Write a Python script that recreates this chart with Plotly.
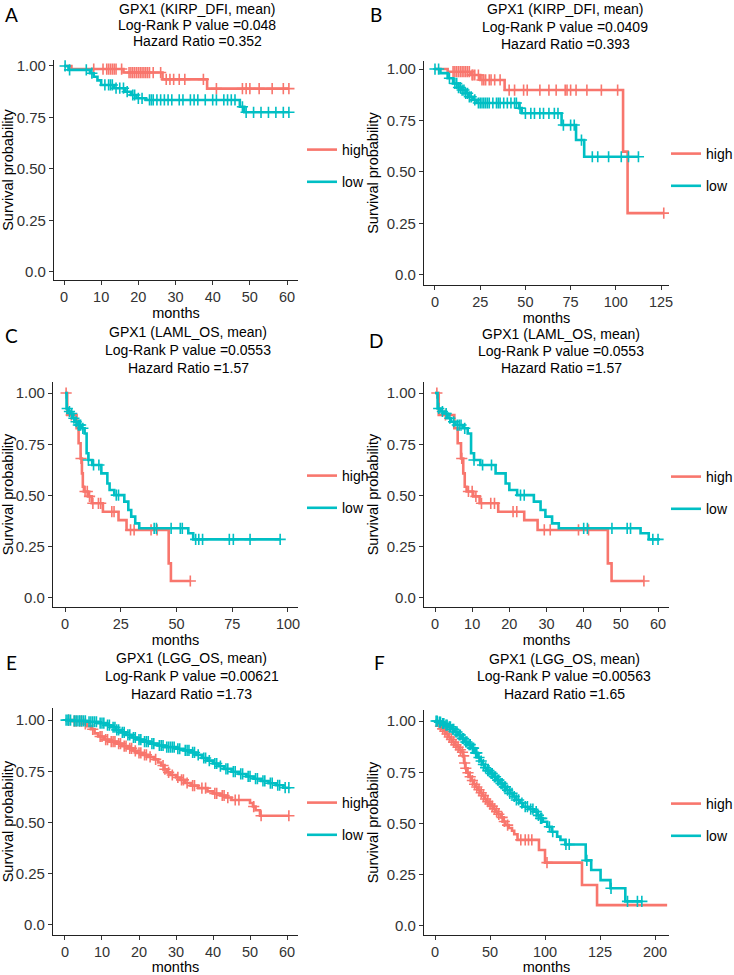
import plotly.graph_objects as go

W, H = 734, 975
HIGH_COLOR = "#F8766D"
LOW_COLOR = "#00BFC4"
FONT = "Liberation Sans"

# ---------------- text ----------------
panel_letters = ["A", "B", "C", "D", "E", "F"]
panel_sets = ["GPX1 (KIRP_DFI, mean)", "GPX1 (KIRP_DFI, mean)", "GPX1 (LAML_OS, mean)",
              "GPX1 (LAML_OS, mean)", "GPX1 (LGG_OS, mean)", "GPX1 (LGG_OS, mean)"]
p_values = ["0.048", "0.0409", "0.0553", "0.0553", "0.00621", "0.00563"]
hazard_ratios = ["0.352", "0.393", "1.57", "1.57", "1.73", "1.65"]
group_labels = ["high", "low"]

y_tickvals = [0, 0.25, 0.5, 0.75, 1.0]
y_ticktext = ["0.0", "0.25", "0.50", "0.75", "1.00"]
A_xticks = [0, 10, 20, 30, 40, 50, 60]
B_xticks = [0, 25, 50, 75, 100, 125]
C_xticks = [0, 25, 50, 75, 100]
D_xticks = [0, 10, 20, 30, 40, 50, 60]
E_xticks = [0, 10, 20, 30, 40, 50, 60]
F_xticks = [0, 50, 100, 150, 200]
F_xticktext = ["0", "50", "100", "125", "200"]

# ---------------- data: KIRP DFI (A) ----------------
A_high_t = [2, 16, 26.5, 38.5]
A_high_s = [0.985, 0.968, 0.935, 0.89]
A_high_end = 60.5
A_high_cens = [8, 10.5, 11.5, 12, 12.5, 13, 13.5, 14, 15.5, 17.5, 18, 18.5, 19, 19.5, 20, 20.5, 21,
               21.5, 22, 22.5, 23, 24, 26, 27.5, 28.5, 29.5, 31, 32.5, 37.5, 41, 48, 49, 50, 52.5,
               56, 59, 60.5]
A_low_t = [1.2, 7, 8, 9, 10, 13.5, 16.5, 18, 19.5, 22, 47.3, 48.5]
A_low_s = [0.981, 0.965, 0.948, 0.93, 0.908, 0.892, 0.875, 0.859, 0.843, 0.835, 0.802, 0.775]
A_low_end = 60.5
A_low_cens = [0.3, 1.5, 6, 7.5, 11, 12, 12.5, 13, 14, 15, 16, 17, 18.5, 19, 20, 21, 23, 23.5, 24,
              25, 26, 27, 28, 29, 31, 32, 34, 35, 36, 38, 40, 41, 43, 44, 45, 46, 48, 49, 51, 53,
              55, 57, 59, 60.5]

# ---------------- data: KIRP DFI (B) ----------------
B_high_t = [7, 20, 25, 38.5, 104, 106.5]
B_high_s = [0.987, 0.971, 0.947, 0.898, 0.599, 0.30]
B_high_end = 126.5
B_high_cens = [10, 11, 12, 13, 14, 15, 16, 17, 18, 19, 20.5, 21, 22, 24, 26, 27, 28, 30, 31, 33,
               36, 41, 44, 49, 51, 58, 63, 67, 72, 73, 75, 78, 84, 92, 101, 126.5]
B_low_t = [3, 7, 10, 13, 15, 17, 19, 21, 23, 46.5, 48, 70, 78, 82.5]
B_low_s = [0.98, 0.955, 0.93, 0.91, 0.898, 0.882, 0.865, 0.85, 0.835, 0.81, 0.785, 0.728,
           0.655, 0.574]
B_low_end = 112.5
B_low_cens = [0, 2, 8, 11, 12, 13, 14, 15, 16, 17, 18, 19, 20, 22, 24, 25, 26, 27, 28, 29, 30,
              32, 34, 35, 36, 38, 40, 42, 44, 45, 47, 50, 53, 55, 58, 60, 63, 66, 68, 71, 75, 77,
              81, 87, 90, 96, 103, 107, 112.5]

# ---------------- data: LAML OS (C full, D up to 60 months) ----------------
L_high_t = [1, 5.2, 6.1, 7, 7.6, 8, 8.5, 10.3, 12, 17, 24, 27.6, 46.5, 47.5]
L_high_s = [0.893, 0.828, 0.755, 0.681, 0.608, 0.543, 0.52, 0.496, 0.462, 0.421, 0.38, 0.332,
            0.169, 0.083]
L_high_end = 56.2
L_high_cens = [0.5, 2.8, 7.2, 9, 10, 11, 12.5, 15, 16, 21, 22, 29.4, 31, 38.6, 41.3, 56.2]
L_low_t = [0.7, 1.5, 2.5, 3.4, 4.3, 5.5, 7.6, 8.8, 9.7, 10.5, 12.2, 16.3, 19, 20, 22.1, 26.6,
           28.4, 29.7, 31.5, 33.3, 55.3, 57.5]
L_low_s = [0.925, 0.91, 0.9, 0.877, 0.86, 0.844, 0.828, 0.803, 0.706, 0.673, 0.649, 0.608, 0.559,
           0.527, 0.502, 0.47, 0.429, 0.397, 0.364, 0.34, 0.316, 0.286]
L_low_end = 96.5
L_low_cens = [1, 2, 3, 4, 5, 6, 6.5, 7, 8, 10.5, 12.8, 15.2, 23, 24, 40, 41, 47.6, 51.7, 52.6,
              58.6, 60, 61.7, 73.7, 75.5, 83, 96.5]
D_max_months = 60.5

# ---------------- data: LGG OS (E) ----------------
E_high_t = [2, 5, 6, 7, 8, 9, 10.5, 12, 14, 15.5, 17, 18.5, 19.5, 21, 22.5, 24, 25.2, 26, 26.8,
            27.5, 28.5, 30, 31.2, 32.5, 34, 36, 38.5, 40, 42, 43.5, 45, 50, 50.8, 51.5, 52.7]
E_high_s = [0.995, 0.982, 0.97, 0.955, 0.935, 0.92, 0.905, 0.895, 0.885, 0.873, 0.862, 0.85,
            0.84, 0.83, 0.82, 0.808, 0.793, 0.778, 0.76, 0.745, 0.732, 0.72, 0.708, 0.693, 0.68,
            0.668, 0.652, 0.642, 0.632, 0.622, 0.61, 0.595, 0.578, 0.56, 0.533]
E_high_end = 60.5
E_high_cens = [1, 2.5, 3, 4, 4.5, 5.5, 7.5, 9.5, 10, 11, 11.5, 12.5, 13, 13.5, 14.5, 15, 16, 16.5,
               17.5, 18, 19, 20, 20.5, 21.5, 22, 23, 24.5, 26.5, 27, 28, 29, 30.5, 31.5, 32, 33,
               34.5, 35, 37, 38, 40.5, 41, 42.5, 43, 44, 46, 47, 51, 53, 60.5]
E_low_t = [2, 6, 9, 11, 12.5, 13.8, 15, 16.5, 18, 19.5, 21, 23, 25, 27, 30, 32, 34, 35.5, 37,
           38.5, 40, 41.5, 43, 45, 47, 49, 51, 53, 55, 57, 59]
E_low_s = [0.996, 0.992, 0.985, 0.975, 0.965, 0.952, 0.94, 0.928, 0.915, 0.905, 0.895, 0.885,
           0.876, 0.868, 0.86, 0.852, 0.842, 0.83, 0.815, 0.802, 0.788, 0.775, 0.762, 0.748,
           0.737, 0.725, 0.714, 0.703, 0.692, 0.682, 0.67]
E_low_end = 60.5
E_low_cens = [0.3, 0.8, 1, 1.5, 2.5, 3, 3.5, 4, 4.5, 5, 5.5, 6.5, 7, 7.5, 8, 8.5, 9.5, 10, 10.5,
              11.5, 12, 13, 13.5, 14, 14.5, 15.5, 16, 17, 17.5, 18.5, 19, 20, 20.5, 21.5, 22,
              22.5, 23.5, 24, 25.5, 26, 26.5, 27.5, 28, 28.5, 29, 29.5, 30.5, 31, 32.5, 33, 33.5,
              34.5, 35, 36, 37.5, 38, 39, 40.5, 41, 42, 43.5, 44, 45.5, 46, 47.5, 48, 49.5, 50,
              51.5, 52, 53.5, 54, 55.5, 56, 57.5, 58, 59.5, 60.5]

# ---------------- data: LGG OS (F) ----------------
F_high_t = [2, 4, 6, 8, 10, 12, 14, 16, 18, 20, 22, 24, 25.5, 26.5, 27.5, 29, 31, 33, 35, 37, 39,
            41, 43, 45, 47, 49, 51, 53, 55, 57, 60, 62, 64, 67, 70, 72, 75, 94.5, 100, 133.6, 147.3]
F_high_s = [0.99, 0.975, 0.962, 0.95, 0.937, 0.922, 0.91, 0.897, 0.884, 0.872, 0.86, 0.848, 0.83,
            0.795, 0.77, 0.748, 0.728, 0.71, 0.692, 0.678, 0.665, 0.65, 0.636, 0.62, 0.607, 0.595,
            0.585, 0.572, 0.558, 0.545, 0.53, 0.51, 0.492, 0.478, 0.465, 0.448, 0.42, 0.371,
            0.309, 0.2, 0.102]
F_high_end = 211
F_high_cens = [5, 7, 9, 11, 13, 15, 17, 19, 21, 23, 25, 26, 27, 28, 30, 32, 34, 36, 38, 40, 42,
               44, 46, 48, 50, 52, 54, 56, 58, 61, 63, 66, 78, 82, 85, 88, 101.8]
F_low_t = [3, 6, 9, 12, 15, 18, 21, 24, 27, 30, 33, 36, 39, 41, 43, 45, 47, 50, 53, 56, 59, 62,
           65, 68, 71, 74, 77, 80, 85, 90, 93, 96, 98, 102, 106, 111, 114, 118.5, 137, 142,
           150.5, 159.5, 173]
F_low_s = [0.995, 0.988, 0.98, 0.972, 0.96, 0.947, 0.932, 0.915, 0.898, 0.885, 0.868, 0.845,
           0.822, 0.805, 0.788, 0.772, 0.758, 0.744, 0.728, 0.712, 0.695, 0.679, 0.663, 0.647,
           0.632, 0.615, 0.6, 0.582, 0.57, 0.558, 0.54, 0.525, 0.509, 0.484, 0.46, 0.436, 0.42,
           0.398, 0.32, 0.273, 0.224, 0.184, 0.12]
F_low_end = 188
F_low_cens = [1, 2, 4, 5, 7, 8, 10, 11, 13, 14, 16, 17, 19, 20, 22, 23, 25, 26, 28, 29, 31, 32,
              34, 35, 37, 38, 40, 42, 44, 46, 48, 49, 51, 52, 54, 55, 57, 58, 60, 61, 63, 64, 66,
              68, 70, 72, 74, 76, 79, 82, 84, 87, 89, 92, 94, 96, 97, 104, 107, 119, 122, 138,
              160, 175, 184, 188]


def truncate(times, surv, end, cens, limit):
    tt = [t for t in times if t <= limit]
    ss = surv[:len(tt)]
    return tt, ss, min(end, limit), [c for c in cens if c <= limit]


D_high = truncate(L_high_t, L_high_s, L_high_end, L_high_cens, D_max_months)
D_low = truncate(L_low_t, L_low_s, L_low_end, L_low_cens, D_max_months)

curves = [
    ((A_high_t, A_high_s, A_high_end, A_high_cens), (A_low_t, A_low_s, A_low_end, A_low_cens)),
    ((B_high_t, B_high_s, B_high_end, B_high_cens), (B_low_t, B_low_s, B_low_end, B_low_cens)),
    ((L_high_t, L_high_s, L_high_end, L_high_cens), (L_low_t, L_low_s, L_low_end, L_low_cens)),
    (D_high, D_low),
    ((E_high_t, E_high_s, E_high_end, E_high_cens), (E_low_t, E_low_s, E_low_end, E_low_cens)),
    ((F_high_t, F_high_s, F_high_end, F_high_cens), (F_low_t, F_low_s, F_low_end, F_low_cens)),
]
xticks = [A_xticks, B_xticks, C_xticks, D_xticks, E_xticks, F_xticks]
xticktexts = [None, None, None, None, None, F_xticktext]

# ---------------- layout geometry (pixels) ----------------
# left, right, top, bottom of plotting panel ; x range ; y range
geom = [
    (54, 298, 60, 280, [-2.69, 62.95], [-0.039, 1.029]),
    (424, 669, 61, 285, [-6.08, 129.4], [-0.049, 1.039]),
    (53, 298, 382, 607, [-5.38, 104.5], [-0.044, 1.054]),
    (424, 669, 382, 607, [-2.96, 62.95], [-0.044, 1.054]),
    (53, 298, 708, 935, [-3.24, 62.97], [-0.049, 1.059]),
    (424, 669, 710, 935, [-10, 212.7], [-0.044, 1.054]),
]
title_x = [197, 565, 188, 561, 192, 564]
title_y = [(9, 25, 41), (9, 27, 44), (332, 350, 368), (334, 351, 368), (658, 676, 694), (659, 676, 694)]
letter_pos = [(11, 14), (376, 14), (11, 336), (376, 340), (12, 662), (379, 662)]
legend_pos = [(302, 152), (666, 156), (302, 478), (666, 479), (302, 805), (666, 806)]
xtitle_standoff = [2, 1, 2, 2, 3, 3]


def surv_at(t, times, surv):
    s = 1.0
    for ti, si in zip(times, surv):
        if ti <= t:
            s = si
    return s


fig = go.Figure()
annotations = []
layout = {}

for i in range(6):
    n = "" if i == 0 else str(i + 1)
    xa, ya = "x" + n, "y" + n
    leg = "legend" + n
    for (times, surv, end, cens), label, color in zip(curves[i], group_labels, [HIGH_COLOR, LOW_COLOR]):
        xs = [0] + list(times) + [end]
        ys = [1.0] + list(surv) + [surv[-1]]
        fig.add_trace(go.Scatter(
            x=xs, y=ys, mode="lines", line=dict(color=color, width=2.6, shape="hv"),
            name=label, legend=leg, legendgroup=f"{i}-{label}", showlegend=True,
            xaxis=xa, yaxis=ya, hoverinfo="skip"))
        fig.add_trace(go.Scatter(
            x=cens, y=[surv_at(c, times, surv) for c in cens], mode="markers",
            marker=dict(symbol="cross-thin", size=8, line=dict(color=color, width=1.6)),
            showlegend=False, legendgroup=f"{i}-{label}", xaxis=xa, yaxis=ya, hoverinfo="skip"))

    l, r, t, b, xr, yr = geom[i]
    layout["xaxis" + n] = dict(
        domain=[l / W, r / W], range=xr, anchor=ya, tickmode="array", tickvals=xticks[i],
        ticktext=xticktexts[i] if xticktexts[i] else [str(v) for v in xticks[i]],
        showline=True, linecolor="#222", linewidth=1.1, ticks="outside", ticklen=4,
        tickcolor="#333", tickfont=dict(family=FONT, size=14.5, color="#333"),
        showgrid=False, zeroline=False,
        title=dict(text="months", font=dict(family=FONT, size=14.5, color="#000"),
                   standoff=xtitle_standoff[i]))
    layout["yaxis" + n] = dict(
        domain=[1 - b / H, 1 - t / H], range=yr, anchor=xa, tickmode="array",
        tickvals=y_tickvals, ticktext=y_ticktext,
        showline=True, linecolor="#222", linewidth=1.1, ticks="outside", ticklen=4,
        tickcolor="#333", tickfont=dict(family=FONT, size=15, color="#333"),
        showgrid=False, zeroline=False,
        title=dict(text="Survival probability", font=dict(family=FONT, size=14.5, color="#000"),
                   standoff=4))
    lx, ly = legend_pos[i]
    layout[leg] = dict(x=lx / W, xanchor="left", y=1 - (ly - 18) / H, yanchor="top",
                       traceorder="grouped", tracegroupgap=11, bgcolor="rgba(0,0,0,0)",
                       font=dict(family=FONT, size=14, color="#000"), itemclick=False)

    lines = [panel_sets[i], "Log-Rank P value =" + p_values[i], "Hazard Ratio =" + hazard_ratios[i]]
    for txt, yy in zip(lines, title_y[i]):
        annotations.append(dict(text=txt, x=title_x[i] / W, y=1 - yy / H, xref="paper", yref="paper",
                                showarrow=False, xanchor="center", yanchor="middle",
                                font=dict(family=FONT, size=14, color="#000")))
    px_, py_ = letter_pos[i]
    annotations.append(dict(text=panel_letters[i], x=px_ / W, y=1 - py_ / H, xref="paper",
                            yref="paper", showarrow=False, xanchor="center", yanchor="middle",
                            font=dict(family="Lato", size=19, color="#000")))

fig.update_layout(width=W, height=H, margin=dict(l=0, r=0, t=0, b=0, autoexpand=False),
                  paper_bgcolor="white", plot_bgcolor="white",
                  annotations=annotations, **layout)
fig.write_html("out.html", config={"displayModeBar": False},
               post_script="document.body.style.margin='0';document.body.style.padding='0';")
